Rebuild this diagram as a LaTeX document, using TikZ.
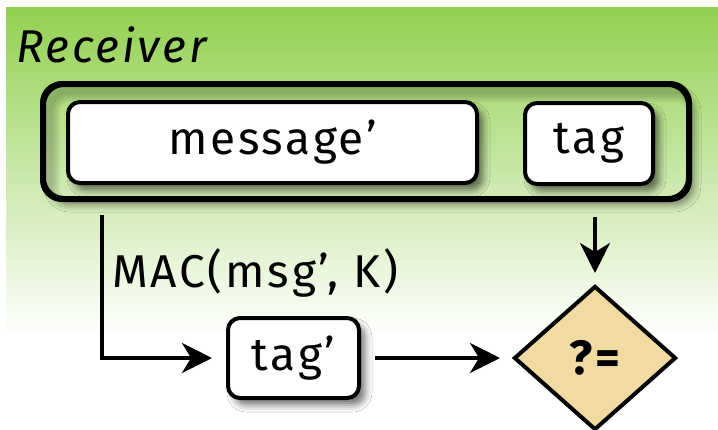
\documentclass[tikz,border=0pt]{standalone}
\usepackage{fontspec}
\setmainfont{Fira Sans}[LetterSpace=6]
\usetikzlibrary{arrows.meta,shapes.geometric,shadows.blur,calc}
\definecolor{leaf}{HTML}{92D050}
\definecolor{sand}{HTML}{F2DBA2}
\tikzset{
  box/.style={draw=black, line width=4pt, fill=white, rounded corners=12pt,
    inner sep=0pt, font=\fontsize{46}{46}\selectfont,
    blur shadow={shadow xshift=6pt, shadow yshift=-7pt, shadow blur radius=7pt, shadow opacity=55}},
  group/.style={draw=black, line width=4pt, rounded corners=20pt, inner sep=0pt,
    shade, top color=leaf!76!white, bottom color=leaf!42!white,
    blur shadow={shadow xshift=6pt, shadow yshift=-7pt, shadow blur radius=7pt, shadow opacity=45}},
  check/.style={diamond, draw=black, line width=4pt, fill=sand, inner sep=0pt,
    font=\bfseries\fontsize{48}{48}\selectfont},
  arr/.style={line width=3.8pt, -{Stealth[length=30pt,width=30pt,inset=9pt]}},
  lbl/.style={font=\fontsize{46}{46}\selectfont, inner sep=0pt},
  innershade/.style={black, opacity=0.055, rounded corners=20pt}
}
\begin{document}
\begin{tikzpicture}[x=1pt,y=-1pt]
\useasboundingbox (0,0) rectangle (718,429);
\fill[white] (0,0) rectangle (718,429);
% green panel fading to white
\shade[top color=leaf, bottom color=white] (6,7) rectangle (718,335);

\node[lbl, anchor=base west] (title) at (16,62) {\itshape Receiver};

% received packet
\node[group, minimum width=644pt, minimum height=113pt] (packet) at (366,141.5) {};
% soft inner shadow along the upper and left inside edges
\begin{scope}
  \clip[rounded corners=20pt] (packet.north west) rectangle (packet.south east);
  \foreach \w in {22,17,12,7}
    \draw[innershade, line width=\w pt]
      ($(packet.north west)+(7,8)$) rectangle ($(packet.south east)+(7,8)$);
\end{scope}
\draw[line width=4pt, rounded corners=20pt] (packet.north west) rectangle (packet.south east);

\node[box, minimum width=409pt, minimum height=81pt] (msg) at (272.5,142.5) {message’};
\node[box, minimum width=128pt, minimum height=81pt] (tag) at (589,143.5) {tag};

% recomputed tag and comparison
\node[box, minimum width=131pt, minimum height=80pt] (tagp) at (293.5,358) {tag’};
\node[check, minimum width=162pt, minimum height=144pt] (cmp) at (595,358) {?=};

\coordinate (macstart) at (102,215);
\draw[arr, shorten >=14pt] (macstart) |- (tagp.west);
\node[lbl, anchor=base west] (mac) at (112,287) {MAC(msg’, K)};
\draw[arr, shorten <=14pt, shorten >=12pt] (tagp.east) -- (cmp.west);
\draw[arr, shorten <=17pt, shorten >=11pt] (packet.south -| cmp.north) -- (cmp.north);
\end{tikzpicture}
\end{document}
